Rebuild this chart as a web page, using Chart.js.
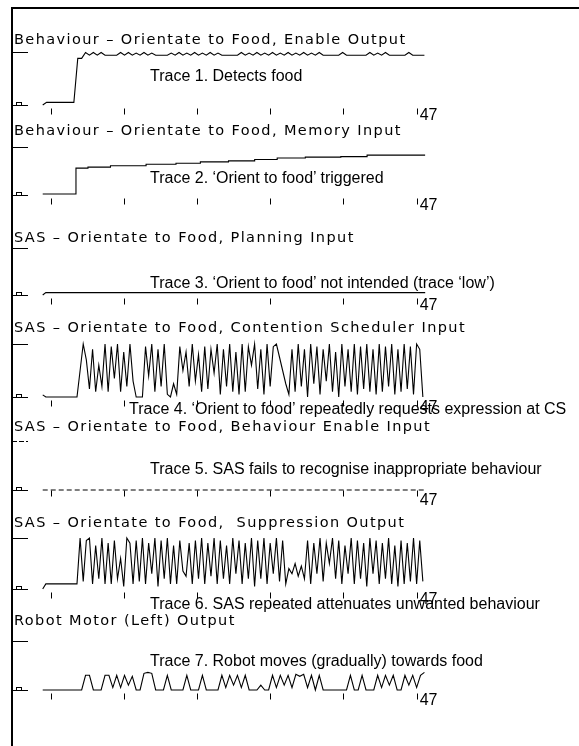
<!DOCTYPE html>
<html><head><meta charset="utf-8">
<script src="https://cdn.jsdelivr.net/npm/chart.js@4.4.1/dist/chart.umd.min.js"></script>
<style>
html,body{margin:0;padding:0;background:#fff;}
#wrap{position:relative;width:579px;height:746px;overflow:hidden;background:#fff;}
#frame{position:absolute;left:11px;top:7px;width:568px;height:739px;border-left:2px solid #000;border-top:2px solid #000;box-sizing:border-box;}
.title{position:absolute;left:14px;font-family:"DejaVu Sans";font-size:14.5px;letter-spacing:1.4px;white-space:pre;line-height:1;color:#000;}
.label{position:absolute;font-family:"Liberation Sans",Arial,sans-serif;font-size:16px;white-space:pre;line-height:1;color:#000;}
canvas.row{position:absolute;left:0;}
</style></head><body><div id="wrap"><div id="frame"></div></div>
<script>
// ---------------- data ----------------
const rowTitles = [
  "Behaviour \u2013 Orientate to Food, Enable Output",
  "Behaviour \u2013 Orientate to Food, Memory Input",
  "SAS \u2013 Orientate to Food, Planning Input",
  "SAS \u2013 Orientate to Food, Contention Scheduler Input",
  "SAS \u2013 Orientate to Food, Behaviour Enable Input",
  "SAS \u2013 Orientate to Food,  Suppression Output",
  "Robot Motor (Left) Output"
];
const traceLabels = [
  "Trace 1. Detects food",
  "Trace 2. \u2018Orient to food\u2019 triggered",
  "Trace 3. \u2018Orient to food\u2019 not intended (trace \u2018low\u2019)",
  "Trace 4. \u2018Orient to food\u2019 repeatedly requests expression at CS",
  "Trace 5. SAS fails to recognise inappropriate behaviour",
  "Trace 6. SAS repeated attenuates unwanted behaviour",
  "Trace 7. Robot moves (gradually) towards food"
];
const tickValues = [0, 9.4, 18.8, 28.2, 37.6, 47];
const tickLabels = ["", "", "", "", "", "47"];

// sample times (half-unit sampling) for traces 1 and 7
const sampleTimes = [-1,-0.5,0,0.5,1,1.5,2,2.5,3,3.5,4,4.5,5,5.5,6,6.5,7,7.5,8,8.5,9,9.5,10,10.5,11,11.5,12,12.5,13,13.5,14,14.5,15,15.5,16,16.5,17,17.5,18,18.5,19,19.5,20,20.5,21,21.5,22,22.5,23,23.5,24,24.5,25,25.5,26,26.5,27,27.5,28,28.5,29,29.5,30,30.5,31,31.5,32,32.5,33,33.5,34,34.5,35,35.5,36,36.5,37,37.5,38,38.5,39,39.5,40,40.5,41,41.5,42,42.5,43,43.5,44,44.5,45,45.5,46,46.5,47,47.5,48];

// finer sample times for the dense traces 4 and 6
const denseTimes = [-1,-0.6,-0.2,0.2,0.6,1,1.4,1.8,2.2,2.6,3,3.4,3.8,4.2,4.6,5,5.4,5.8,6.2,6.6,7,7.4,7.8,8.2,8.6,9,9.4,9.8,10.2,10.6,11,11.4,11.8,12.2,12.6,13,13.4,13.8,14.2,14.6,15,15.4,15.8,16.2,16.6,17,17.4,17.8,18.2,18.6,19,19.4,19.8,20.2,20.6,21,21.4,21.8,22.2,22.6,23,23.4,23.8,24.2,24.6,25,25.4,25.8,26.2,26.6,27,27.4,27.8,28.2,28.6,29,29.4,29.8,30.2,30.6,31,31.4,31.8,32.2,32.6,33,33.4,33.8,34.2,34.6,35,35.4,35.8,36.2,36.6,37,37.4,37.8,38.2,38.6,39,39.4,39.8,40.2,40.6,41,41.4,41.8,42.2,42.6,43,43.4,43.8,44.2,44.6,45,45.4,45.8,46.2,46.6,47,47.4,47.8];

const trace1Values = [
  0,0.05,0.05,0.05,0.05,0.05,0.05,0.05,0.05,0.88,
  0.88,0.99,0.94,0.99,0.94,0.99,0.94,0.94,0.94,0.94,
  0.99,0.94,0.99,0.94,0.98,0.94,0.99,0.94,0.98,0.94,
  0.94,0.94,0.94,0.98,0.94,0.99,0.94,0.98,0.94,0.99,
  0.94,0.98,0.94,0.99,0.94,0.98,0.94,0.94,0.94,0.94,
  0.94,0.99,0.94,0.98,0.94,0.99,0.94,0.98,0.94,0.99,
  0.94,0.98,0.94,0.99,0.94,0.98,0.94,0.99,0.94,0.98,
  0.94,0.99,0.94,0.94,0.94,0.94,0.94,0.99,0.94,0.94,
  0.94,0.94,0.94,0.94,0.99,0.94,0.98,0.94,0.99,0.94,
  0.94,0.94,0.94,0.94,0.99,0.94,0.94,0.94,0.94
];

const trace2Times  = [-1, 3.27, 4.81, 7.70, 12.27, 16.11, 19.24, 22.85, 26.21, 29.10, 32.71, 37.27, 40.64, 48.09];
const trace2Values = [0.02, 0.56, 0.58, 0.61, 0.64, 0.66, 0.69, 0.71, 0.74, 0.77, 0.79, 0.80, 0.83, 0.83];

const trace3Times  = [-1, -0.6, 48.1];
const trace3Values = [0, 0.05, 0.05];

const trace4Values = [
  0.04,0,0,0,0,0,0,0,0,0,
  0,0,0.5,1.0,0.7,0.15,0.9,0.1,0.6,0.2,
  1.0,0.1,0.95,0.35,1.0,0.1,0.85,0.2,1.0,0.3,
  0,0,0,0.95,0.4,1.0,0.1,0.9,0.2,1.0,
  0.05,0,0.25,0.05,0.95,0.5,0.85,0.2,1.0,0.3,
  0.8,0.1,0.95,0.15,0.9,0.45,1.0,0.05,0.9,0.2,
  1.0,0.1,0.85,0.05,1.0,0.1,0.95,0.6,1.0,0.15,
  0.9,0.05,1.0,0.2,0.95,1.0,0.75,0.5,0.25,0.05,
  0.9,0.1,1.0,0.2,0.9,0,1.0,0.25,0.95,0.05,
  0.9,0.3,1.0,0.1,0.85,0,1.0,0.2,0.9,0.1,
  1.0,0.05,0.95,0.15,1.0,0.1,0.9,0.05,1.0,0.1,
  0.95,0.2,1.0,0.05,0.9,0.1,1.0,0.15,0.95,0.05,
  1.0,0.9,0
];

const trace5Times  = [-1, 48];
const trace5Values = [0, 0];

const trace6Values = [
  0,0.1,0.1,0.1,0.1,0.1,0.1,0.1,0.1,0.1,
  0.1,0.1,1.0,0.15,0.95,1.0,0.1,0.85,0.2,1.0,
  0.1,0.9,0.1,0.95,0.2,0.6,0.05,1.0,0.9,0.1,
  0.95,0.15,1.0,0.1,0.9,0.3,1.0,0.05,0.95,0.2,
  1.0,0.1,0.85,0.1,0.95,0.35,0.25,0.9,0.1,0.95,
  0.2,1.0,0.1,0.9,0.25,1.0,0.1,0.95,0.2,0.85,
  0.1,1.0,0.3,0.95,0.1,0.9,0.2,1.0,0.05,0.95,
  0.2,1.0,0.1,0.9,0.3,1.0,0.15,0.95,0.1,0.4,
  0.3,0.5,0.25,0.45,0.2,0.95,0.1,0.9,0.3,1.0,
  0.15,0.9,0.5,1.0,0.2,0.95,0.1,0.85,0.3,1.0,
  0.1,0.95,0.2,0.9,0.05,1.0,0.3,0.95,0.1,0.9,
  0.2,1.0,0.1,0.85,0.05,0.95,0.1,0.9,0.15,1.0,
  0.1,0.95,0.15
];

const trace7Values = [
  0,0,0,0,0,0,0,0,0,0,
  0,0.3,0.3,0,0,0,0.3,0.3,0.05,0.3,
  0.05,0.3,0.1,0.28,0,0,0.34,0.36,0.34,0,
  0,0,0.3,0,0,0,0,0.3,0,0,
  0,0.3,0,0,0,0,0.3,0.05,0.3,0.1,
  0.3,0.05,0.3,0,0,0,0.1,0,0,0.3,
  0.05,0.3,0.1,0.3,0.05,0.32,0.28,0.32,0.05,0.3,
  0,0.3,0,0,0,0,0,0,0,0.3,
  0,0,0.3,0,0,0,0.3,0.05,0.3,0.1,
  0.3,0,0,0.3,0.1,0.3,0.05,0.3,0.36
];

// ---------------- layout (pixels) ----------------
const X_PX0 = 50.5, X_PX_PER_UNIT = 7.79, CANVAS_W = 579;
const X_MIN = -X_PX0 / X_PX_PER_UNIT, X_MAX = (CANVAS_W - X_PX0) / X_PX_PER_UNIT;
const rowLayout = [
  {title:39,  high:52,  base:105, label:76,  labelX:150, gap:3},
  {title:130, high:147, base:195, label:178, labelX:150, gap:3},
  {title:237, high:248, base:295, label:283, labelX:150, gap:3},
  {title:327, high:344, base:397, label:409, labelX:129, gap:3},
  {title:426, high:441, base:490, label:469, labelX:150, gap:0, dashed:true},
  {title:522, high:538, base:589, label:604, labelX:150, gap:3},
  {title:620, high:641, base:690, label:661, labelX:150, gap:3}
];

function pts(xs, ys){ return xs.map((x,i)=>({x:x, y:ys[i]})); }
const traceData = [
  {points: pts(sampleTimes, trace1Values)},
  {points: pts(trace2Times, trace2Values), stepped:true},
  {points: pts(trace3Times, trace3Values)},
  {points: pts(denseTimes, trace4Values)},
  {points: pts(trace5Times, trace5Values), dash:[5,3]},
  {points: pts(denseTimes, trace6Values)},
  {points: pts(sampleTimes, trace7Values)}
];

const rowDecor = {
  id:'rowDecor',
  afterDatasetsDraw(chart, args, opts){
    const ctx = chart.ctx, xs = chart.scales.x, ys = chart.scales.y;
    const yHi = Math.round(ys.getPixelForValue(1)) + 0.5;
    const y0 = Math.round(ys.getPixelForValue(0)) + 0.5;
    ctx.save();
    ctx.strokeStyle = '#000'; ctx.lineWidth = 1;
    ctx.beginPath();
    if (opts.dashed) ctx.setLineDash([5,2]);
    ctx.moveTo(12, yHi); ctx.lineTo(28, yHi); ctx.stroke();
    ctx.setLineDash([]);
    ctx.beginPath(); ctx.moveTo(12, y0); ctx.lineTo(28, y0); ctx.stroke();
    ctx.strokeRect(16.5, y0 - 3, 5, 3);
    tickValues.forEach(v => {
      const x = Math.round(xs.getPixelForValue(v)) + 0.5;
      ctx.beginPath(); ctx.moveTo(x, y0 + opts.gap); ctx.lineTo(x, y0 + opts.gap + 6); ctx.stroke();
    });
    ctx.fillStyle = '#000';
    ctx.font = '16px "Liberation Sans", Arial, sans-serif';
    ctx.textBaseline = 'alphabetic';
    tickLabels.forEach((lab, k) => {
      if (lab) ctx.fillText(lab, xs.getPixelForValue(tickValues[k]) + 3, y0 + 14);
    });
    ctx.restore();
  }
};

const wrap = document.getElementById('wrap');
rowLayout.forEach((r, i) => {
  const top = Math.round(r.high) - 10;
  const padTop = r.high - top;
  const padBottom = 24;
  const h = Math.round(r.base) + padBottom - top;
  const cv = document.createElement('canvas');
  cv.className = 'row'; cv.width = CANVAS_W; cv.height = h;
  cv.style.top = top + 'px'; cv.style.width = CANVAS_W + 'px'; cv.style.height = h + 'px';
  wrap.appendChild(cv);
  const td = traceData[i];
  new Chart(cv, {
    type: 'line',
    data: { datasets: [{
      data: td.points, borderColor: '#000', borderWidth: 1.1, pointRadius: 0,
      tension: 0, fill: false, stepped: td.stepped || false, borderDash: td.dash || [],
      clip: false
    }]},
    options: {
      responsive: false, animation: false, devicePixelRatio: 1, events: [],
      layout: { padding: { top: padTop, bottom: padBottom, left: 0, right: 0 } },
      plugins: { legend: {display:false}, tooltip: {enabled:false}, title:{display:false},
                 rowDecor: { gap: r.gap, dashed: !!r.dashed } },
      scales: {
        x: { type: 'linear', display: false, min: X_MIN, max: X_MAX },
        y: { type: 'linear', display: false, min: 0, max: 1 }
      }
    },
    plugins: [rowDecor]
  });
});

rowLayout.forEach((r, i) => {
  const t = document.createElement('div');
  t.className = 'title'; t.textContent = rowTitles[i];
  t.style.top = (r.title - 7) + 'px';
  wrap.appendChild(t);
  const l = document.createElement('div');
  l.className = 'label'; l.textContent = traceLabels[i];
  l.style.left = r.labelX + 'px'; l.style.top = (r.label - 7.8) + 'px';
  wrap.appendChild(l);
});
</script>
</body></html>
